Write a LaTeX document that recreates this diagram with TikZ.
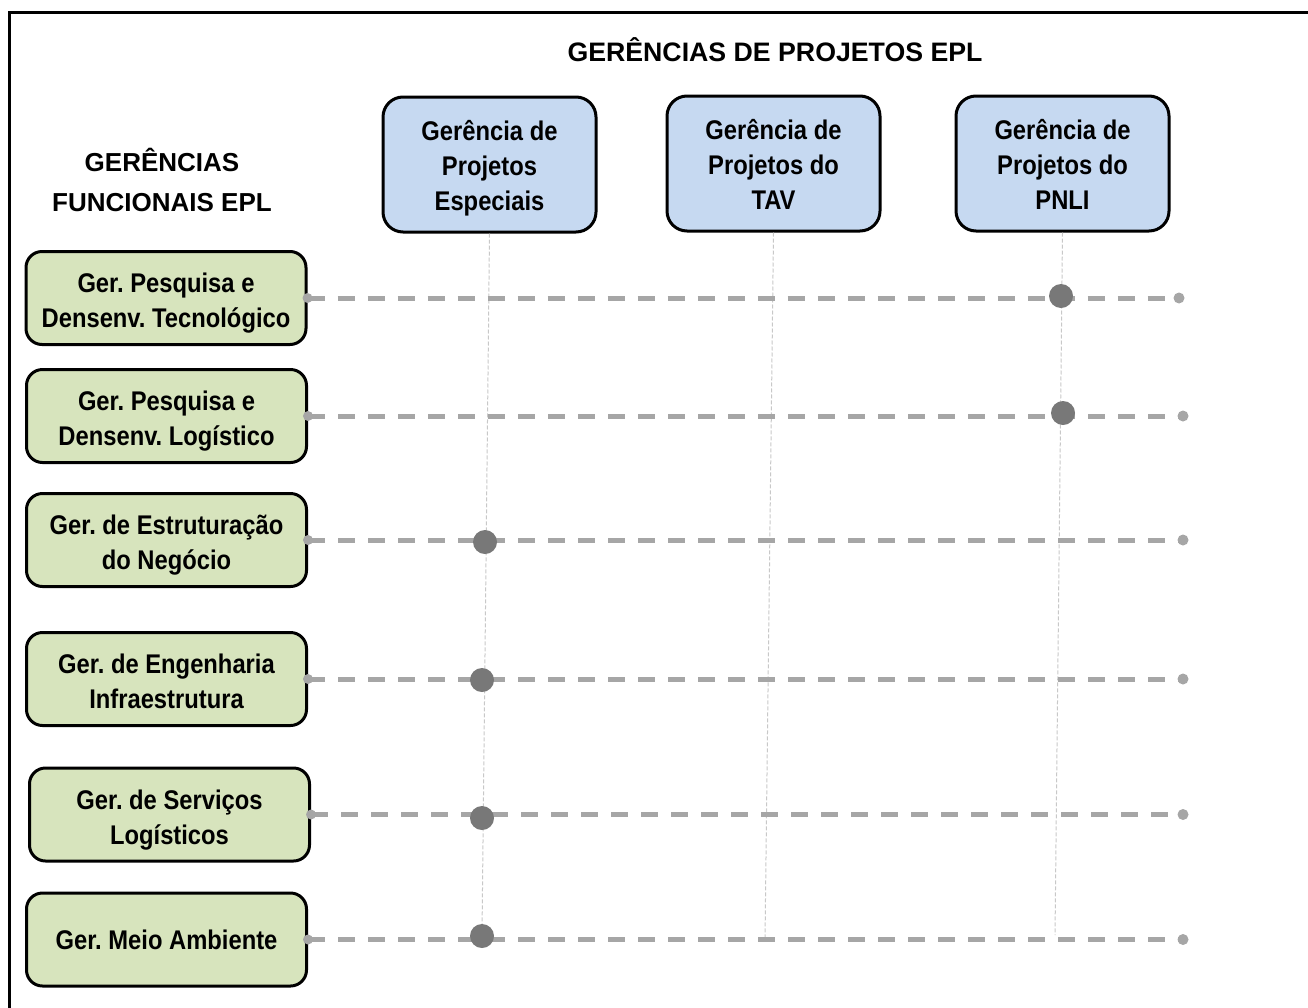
\documentclass[tikz,border=0pt]{standalone}
\usepackage{fontspec}
\setmainfont{Liberation Sans}
\newfontfamily\narrowfont[FakeStretch=0.88]{Liberation Sans}
\frenchspacing

\definecolor{projblue}{RGB}{198,217,241}
\definecolor{funcgreen}{RGB}{215,228,189}
\definecolor{linegray}{RGB}{166,166,166}
\definecolor{dotgray}{RGB}{120,120,120}
\definecolor{gridgray}{RGB}{200,200,200}

\begin{document}
\begin{tikzpicture}[x=1pt,y=-1pt,
	projbox/.style={draw=black, line width=3pt, fill=projblue, rounded corners=20pt, minimum width=213pt, minimum height=135pt, align=center, text height=92pt, text depth=0pt, font=\narrowfont\fontsize{27}{35}\selectfont\bfseries},
	funcbox/.style={draw=black, line width=3pt, fill=funcgreen, rounded corners=16pt, minimum width=280pt, minimum height=93pt, align=center, text height=59pt, text depth=0pt, font=\narrowfont\fontsize{27}{35}\selectfont\bfseries},
	heading/.style={align=center, font=\fontsize{26}{40}\selectfont\bfseries},
	rowline/.style={linegray, line width=5pt, dash pattern=on 17pt off 13pt},
	colline/.style={gridgray, line width=1pt, dash pattern=on 4pt off 2pt}]

	\useasboundingbox (0,0) rectangle (1308,1007);
	\draw[line width=3pt] (9,1030) -- (9,12) -- (1330,12);

	\node[heading, font=\fontsize{26.7}{40}\selectfont\bfseries] (title) at (775,50) {GERÊNCIAS DE PROJETOS EPL};
	\node[heading] (func) at (162,180) {GERÊNCIAS\\FUNCIONAIS EPL};

	% gerencias de projetos
	\node[projbox] (p1) at (489.5,164.5) {Gerência de\\Projetos\\Especiais};
	\node[projbox] (p2) at (773.5,163.5) {Gerência de\\Projetos do\\TAV};
	\node[projbox] (p3) at (1062.5,163.5) {Gerência de\\Projetos do\\PNLI};

	% gerencias funcionais
	\node[funcbox] (g1) at (166,298) {Ger. Pesquisa e\\Densenv. Tecnológico};
	\node[funcbox] (g2) at (166.5,416) {Ger. Pesquisa e\\Densenv. Logístico};
	\node[funcbox] (g3) at (166.5,540) {Ger. de Estruturação\\do Negócio};
	\node[funcbox] (g4) at (166.5,679) {Ger. de Engenharia\\Infraestrutura};
	\node[funcbox] (g5) at (169.5,814.5) {Ger. de Serviços\\Logísticos};
	\node[funcbox, text height=20pt] (g6) at (166.5,939.5) {Ger. Meio Ambiente};

	\coordinate (r1) at (1179,298);
	\coordinate (r2) at (1183,416);
	\coordinate (r3) at (1183,540);
	\coordinate (r4) at (1183,679);
	\coordinate (r5) at (1183,814.5);
	\coordinate (r6) at (1183,939.5);

	\coordinate (b1) at (482,935);
	\coordinate (b2) at (765,940);
	\coordinate (b3) at (1055,935);

	\foreach \i in {1,2,3}
		\draw[colline] (p\i.south) -- (b\i);

	\foreach \i in {1,...,6} {
		\draw[rowline] (g\i.east) -- (r\i);
		\fill[linegray] (g\i.east) circle (5pt) (r\i) circle (5.5pt);
	}

	\fill[dotgray] (1061,296) circle (12pt);
	\fill[dotgray] (1063,413) circle (12pt);
	\fill[dotgray] (485,542) circle (12pt);
	\fill[dotgray] (482,680) circle (12pt);
	\fill[dotgray] (482,818) circle (12pt);
	\fill[dotgray] (482,936) circle (12pt);

\end{tikzpicture}
\end{document}
